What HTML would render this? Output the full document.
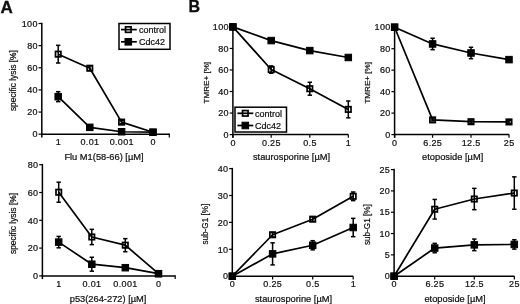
<!DOCTYPE html>
<html><head><meta charset="utf-8"><title>figure</title>
<style>
html,body{margin:0;padding:0;background:#fff;width:520px;height:304px;overflow:hidden;}
svg{display:block;font-family:"Liberation Sans", sans-serif;will-change:transform;}
svg text{fill:#111;stroke:#111;stroke-width:0.22px;}
svg line,svg polyline,svg rect{stroke:#000;}
</style></head><body>
<svg width="520" height="304" viewBox="0 0 520 304">
<line x1="41.8" y1="22.75" x2="41.8" y2="137.4" stroke-width="1.5"/>
<line x1="41.05" y1="134.2" x2="169.3" y2="134.2" stroke-width="1.5"/>
<line x1="38.6" y1="134.2" x2="41.8" y2="134.2" stroke-width="1.2"/>
<text x="37.85" y="137.44" font-size="9" text-anchor="end" letter-spacing="0.35">0</text>
<line x1="38.6" y1="112.06" x2="41.8" y2="112.06" stroke-width="1.2"/>
<text x="37.85" y="115.3" font-size="9" text-anchor="end" letter-spacing="0.35">20</text>
<line x1="38.6" y1="89.92" x2="41.8" y2="89.92" stroke-width="1.2"/>
<text x="37.85" y="93.16" font-size="9" text-anchor="end" letter-spacing="0.35">40</text>
<line x1="38.6" y1="67.78" x2="41.8" y2="67.78" stroke-width="1.2"/>
<text x="37.85" y="71.02" font-size="9" text-anchor="end" letter-spacing="0.35">60</text>
<line x1="38.6" y1="45.64" x2="41.8" y2="45.64" stroke-width="1.2"/>
<text x="37.85" y="48.88" font-size="9" text-anchor="end" letter-spacing="0.35">80</text>
<line x1="38.6" y1="23.5" x2="41.8" y2="23.5" stroke-width="1.2"/>
<text x="37.85" y="26.74" font-size="9" text-anchor="end" letter-spacing="0.35">100</text>
<text x="58.38" y="144.6" font-size="9" text-anchor="middle" letter-spacing="0.35">1</text>
<text x="89.97" y="144.6" font-size="9" text-anchor="middle" letter-spacing="0.35">0.01</text>
<text x="121.77" y="144.6" font-size="9" text-anchor="middle" letter-spacing="0.35">0.001</text>
<text x="153.18" y="144.6" font-size="9" text-anchor="middle" letter-spacing="0.35">0</text>
<line x1="169.3" y1="133.45" x2="169.3" y2="137.4" stroke-width="1.2"/>
<text x="104" y="160.2" font-size="9.3" text-anchor="middle">Flu M1(58-66) [µM]</text>
<text x="0" y="0" font-size="8.4" text-anchor="middle" transform="translate(15.6 80.6) rotate(-90)">specific lysis [%]</text>
<polyline fill="none" stroke-width="1.7" stroke-linejoin="round" points="58.2,54.16 89.8,68.22 121.6,122.13 153,132.21"/>
<polyline fill="none" stroke-width="1.7" stroke-linejoin="round" points="58.2,96.67 89.8,127.34 121.6,131.76 153,132.21"/>
<line x1="58.2" y1="45.31" x2="58.2" y2="63.02" stroke-width="1.5"/>
<line x1="56" y1="45.31" x2="60.4" y2="45.31" stroke-width="1.5"/>
<line x1="56" y1="63.02" x2="60.4" y2="63.02" stroke-width="1.5"/>
<rect x="55.5" y="51.46" width="5.4" height="5.4" fill="none" stroke-width="1.7"/>
<line x1="89.8" y1="66.01" x2="89.8" y2="70.44" stroke-width="1.5"/>
<line x1="87.6" y1="66.01" x2="92" y2="66.01" stroke-width="1.5"/>
<line x1="87.6" y1="70.44" x2="92" y2="70.44" stroke-width="1.5"/>
<rect x="87.1" y="65.52" width="5.4" height="5.4" fill="none" stroke-width="1.7"/>
<line x1="121.6" y1="120.47" x2="121.6" y2="123.79" stroke-width="1.5"/>
<line x1="119.4" y1="120.47" x2="123.8" y2="120.47" stroke-width="1.5"/>
<line x1="119.4" y1="123.79" x2="123.8" y2="123.79" stroke-width="1.5"/>
<rect x="118.9" y="119.43" width="5.4" height="5.4" fill="none" stroke-width="1.7"/>
<rect x="150.3" y="129.51" width="5.4" height="5.4" fill="none" stroke-width="1.7"/>
<line x1="58.2" y1="91.69" x2="58.2" y2="101.65" stroke-width="1.5"/>
<line x1="56" y1="91.69" x2="60.4" y2="91.69" stroke-width="1.5"/>
<line x1="56" y1="101.65" x2="60.4" y2="101.65" stroke-width="1.5"/>
<rect x="54.95" y="93.42" width="6.5" height="6.5" fill="#000" stroke="none"/>
<rect x="86.55" y="124.09" width="6.5" height="6.5" fill="#000" stroke="none"/>
<rect x="118.35" y="128.51" width="6.5" height="6.5" fill="#000" stroke="none"/>
<rect x="149.75" y="128.96" width="6.5" height="6.5" fill="#000" stroke="none"/>
<line x1="42.4" y1="163.95" x2="42.4" y2="279.1" stroke-width="1.5"/>
<line x1="41.65" y1="275.9" x2="175.2" y2="275.9" stroke-width="1.5"/>
<line x1="39.2" y1="275.9" x2="42.4" y2="275.9" stroke-width="1.2"/>
<text x="38.45" y="279.14" font-size="9" text-anchor="end" letter-spacing="0.35">0</text>
<line x1="39.2" y1="248.1" x2="42.4" y2="248.1" stroke-width="1.2"/>
<text x="38.45" y="251.34" font-size="9" text-anchor="end" letter-spacing="0.35">20</text>
<line x1="39.2" y1="220.3" x2="42.4" y2="220.3" stroke-width="1.2"/>
<text x="38.45" y="223.54" font-size="9" text-anchor="end" letter-spacing="0.35">40</text>
<line x1="39.2" y1="192.5" x2="42.4" y2="192.5" stroke-width="1.2"/>
<text x="38.45" y="195.74" font-size="9" text-anchor="end" letter-spacing="0.35">60</text>
<line x1="39.2" y1="164.7" x2="42.4" y2="164.7" stroke-width="1.2"/>
<text x="38.45" y="167.94" font-size="9" text-anchor="end" letter-spacing="0.35">80</text>
<text x="58.88" y="286.5" font-size="9" text-anchor="middle" letter-spacing="0.35">1</text>
<text x="91.97" y="286.5" font-size="9" text-anchor="middle" letter-spacing="0.35">0.01</text>
<text x="125.47" y="286.5" font-size="9" text-anchor="middle" letter-spacing="0.35">0.001</text>
<text x="158.68" y="286.5" font-size="9" text-anchor="middle" letter-spacing="0.35">0</text>
<line x1="175.2" y1="275.15" x2="175.2" y2="279.1" stroke-width="1.2"/>
<text x="108.1" y="302" font-size="9.3" text-anchor="middle">p53(264-272) [µM]</text>
<text x="0" y="0" font-size="8.4" text-anchor="middle" transform="translate(15.5 223.5) rotate(-90)">specific lysis [%]</text>
<polyline fill="none" stroke-width="1.7" stroke-linejoin="round" points="58.7,192.22 91.8,236.98 125.3,245.18 158.5,273.68"/>
<polyline fill="none" stroke-width="1.7" stroke-linejoin="round" points="58.7,242.12 91.8,264.22 125.3,267.7 158.5,273.68"/>
<line x1="58.7" y1="182.21" x2="58.7" y2="202.23" stroke-width="1.5"/>
<line x1="56.5" y1="182.21" x2="60.9" y2="182.21" stroke-width="1.5"/>
<line x1="56.5" y1="202.23" x2="60.9" y2="202.23" stroke-width="1.5"/>
<rect x="56" y="189.52" width="5.4" height="5.4" fill="none" stroke-width="1.7"/>
<line x1="91.8" y1="229.33" x2="91.8" y2="244.62" stroke-width="1.5"/>
<line x1="89.6" y1="229.33" x2="94" y2="229.33" stroke-width="1.5"/>
<line x1="89.6" y1="244.62" x2="94" y2="244.62" stroke-width="1.5"/>
<rect x="89.1" y="234.28" width="5.4" height="5.4" fill="none" stroke-width="1.7"/>
<line x1="125.3" y1="238.65" x2="125.3" y2="251.71" stroke-width="1.5"/>
<line x1="123.1" y1="238.65" x2="127.5" y2="238.65" stroke-width="1.5"/>
<line x1="123.1" y1="251.71" x2="127.5" y2="251.71" stroke-width="1.5"/>
<rect x="122.6" y="242.48" width="5.4" height="5.4" fill="none" stroke-width="1.7"/>
<rect x="155.8" y="270.98" width="5.4" height="5.4" fill="none" stroke-width="1.7"/>
<line x1="58.7" y1="236.42" x2="58.7" y2="247.82" stroke-width="1.5"/>
<line x1="56.5" y1="236.42" x2="60.9" y2="236.42" stroke-width="1.5"/>
<line x1="56.5" y1="247.82" x2="60.9" y2="247.82" stroke-width="1.5"/>
<rect x="55.45" y="238.87" width="6.5" height="6.5" fill="#000" stroke="none"/>
<line x1="91.8" y1="257.27" x2="91.8" y2="271.17" stroke-width="1.5"/>
<line x1="89.6" y1="257.27" x2="94" y2="257.27" stroke-width="1.5"/>
<line x1="89.6" y1="271.17" x2="94" y2="271.17" stroke-width="1.5"/>
<rect x="88.55" y="260.97" width="6.5" height="6.5" fill="#000" stroke="none"/>
<rect x="122.05" y="264.45" width="6.5" height="6.5" fill="#000" stroke="none"/>
<rect x="155.25" y="270.43" width="6.5" height="6.5" fill="#000" stroke="none"/>
<line x1="232.9" y1="26.15" x2="232.9" y2="137.8" stroke-width="1.5"/>
<line x1="232.15" y1="134.6" x2="348.4" y2="134.6" stroke-width="1.5"/>
<line x1="229.7" y1="134.6" x2="232.9" y2="134.6" stroke-width="1.2"/>
<text x="228.95" y="137.84" font-size="9" text-anchor="end" letter-spacing="0.35">0</text>
<line x1="229.7" y1="113.06" x2="232.9" y2="113.06" stroke-width="1.2"/>
<text x="228.95" y="116.3" font-size="9" text-anchor="end" letter-spacing="0.35">20</text>
<line x1="229.7" y1="91.52" x2="232.9" y2="91.52" stroke-width="1.2"/>
<text x="228.95" y="94.76" font-size="9" text-anchor="end" letter-spacing="0.35">40</text>
<line x1="229.7" y1="69.98" x2="232.9" y2="69.98" stroke-width="1.2"/>
<text x="228.95" y="73.22" font-size="9" text-anchor="end" letter-spacing="0.35">60</text>
<line x1="229.7" y1="48.44" x2="232.9" y2="48.44" stroke-width="1.2"/>
<text x="228.95" y="51.68" font-size="9" text-anchor="end" letter-spacing="0.35">80</text>
<line x1="229.7" y1="26.9" x2="232.9" y2="26.9" stroke-width="1.2"/>
<text x="228.95" y="30.14" font-size="9" text-anchor="end" letter-spacing="0.35">100</text>
<line x1="232.9" y1="134.6" x2="232.9" y2="137.8" stroke-width="1.2"/>
<text x="233.08" y="146.3" font-size="9" text-anchor="middle" letter-spacing="0.35">0</text>
<line x1="271.2" y1="134.6" x2="271.2" y2="137.8" stroke-width="1.2"/>
<text x="271.38" y="146.3" font-size="9" text-anchor="middle" letter-spacing="0.35">0.25</text>
<line x1="309.8" y1="134.6" x2="309.8" y2="137.8" stroke-width="1.2"/>
<text x="309.98" y="146.3" font-size="9" text-anchor="middle" letter-spacing="0.35">0.5</text>
<line x1="348.3" y1="134.6" x2="348.3" y2="137.8" stroke-width="1.2"/>
<text x="348.48" y="146.3" font-size="9" text-anchor="middle" letter-spacing="0.35">1</text>
<text x="291.5" y="160.2" font-size="9.3" text-anchor="middle">staurosporine [µM]</text>
<text x="0" y="0" font-size="8.1" text-anchor="middle" transform="translate(208.8 82.7) rotate(-90)">TMRE+ [%]</text>
<polyline fill="none" stroke-width="1.7" stroke-linejoin="round" points="232.9,26.9 271.2,69.55 309.8,88.72 348.3,109.4"/>
<polyline fill="none" stroke-width="1.7" stroke-linejoin="round" points="232.9,26.9 271.2,40.58 309.8,50.59 348.3,57.49"/>
<rect x="230.2" y="24.2" width="5.4" height="5.4" fill="none" stroke-width="1.7"/>
<line x1="271.2" y1="65.89" x2="271.2" y2="73.21" stroke-width="1.5"/>
<line x1="269" y1="65.89" x2="273.4" y2="65.89" stroke-width="1.5"/>
<line x1="269" y1="73.21" x2="273.4" y2="73.21" stroke-width="1.5"/>
<rect x="268.5" y="66.85" width="5.4" height="5.4" fill="none" stroke-width="1.7"/>
<line x1="309.8" y1="82.26" x2="309.8" y2="95.18" stroke-width="1.5"/>
<line x1="307.6" y1="82.26" x2="312" y2="82.26" stroke-width="1.5"/>
<line x1="307.6" y1="95.18" x2="312" y2="95.18" stroke-width="1.5"/>
<rect x="307.1" y="86.02" width="5.4" height="5.4" fill="none" stroke-width="1.7"/>
<line x1="348.3" y1="101" x2="348.3" y2="117.8" stroke-width="1.5"/>
<line x1="346.1" y1="101" x2="350.5" y2="101" stroke-width="1.5"/>
<line x1="346.1" y1="117.8" x2="350.5" y2="117.8" stroke-width="1.5"/>
<rect x="345.6" y="106.7" width="5.4" height="5.4" fill="none" stroke-width="1.7"/>
<rect x="229.65" y="23.65" width="6.5" height="6.5" fill="#000" stroke="none"/>
<rect x="267.95" y="37.33" width="6.5" height="6.5" fill="#000" stroke="none"/>
<rect x="306.55" y="47.34" width="6.5" height="6.5" fill="#000" stroke="none"/>
<rect x="345.05" y="54.24" width="6.5" height="6.5" fill="#000" stroke="none"/>
<line x1="394.6" y1="26.45" x2="394.6" y2="137.8" stroke-width="1.5"/>
<line x1="393.85" y1="134.6" x2="509.2" y2="134.6" stroke-width="1.5"/>
<line x1="391.4" y1="134.6" x2="394.6" y2="134.6" stroke-width="1.2"/>
<text x="390.65" y="137.84" font-size="9" text-anchor="end" letter-spacing="0.35">0</text>
<line x1="391.4" y1="113.12" x2="394.6" y2="113.12" stroke-width="1.2"/>
<text x="390.65" y="116.36" font-size="9" text-anchor="end" letter-spacing="0.35">20</text>
<line x1="391.4" y1="91.64" x2="394.6" y2="91.64" stroke-width="1.2"/>
<text x="390.65" y="94.88" font-size="9" text-anchor="end" letter-spacing="0.35">40</text>
<line x1="391.4" y1="70.16" x2="394.6" y2="70.16" stroke-width="1.2"/>
<text x="390.65" y="73.4" font-size="9" text-anchor="end" letter-spacing="0.35">60</text>
<line x1="391.4" y1="48.68" x2="394.6" y2="48.68" stroke-width="1.2"/>
<text x="390.65" y="51.92" font-size="9" text-anchor="end" letter-spacing="0.35">80</text>
<line x1="391.4" y1="27.2" x2="394.6" y2="27.2" stroke-width="1.2"/>
<text x="390.65" y="30.44" font-size="9" text-anchor="end" letter-spacing="0.35">100</text>
<line x1="394.6" y1="134.6" x2="394.6" y2="137.8" stroke-width="1.2"/>
<text x="394.78" y="146.3" font-size="9" text-anchor="middle" letter-spacing="0.35">0</text>
<line x1="432.6" y1="134.6" x2="432.6" y2="137.8" stroke-width="1.2"/>
<text x="432.78" y="146.3" font-size="9" text-anchor="middle" letter-spacing="0.35">6.25</text>
<line x1="471" y1="134.6" x2="471" y2="137.8" stroke-width="1.2"/>
<text x="471.18" y="146.3" font-size="9" text-anchor="middle" letter-spacing="0.35">12.5</text>
<line x1="509" y1="134.6" x2="509" y2="137.8" stroke-width="1.2"/>
<text x="509.18" y="146.3" font-size="9" text-anchor="middle" letter-spacing="0.35">25</text>
<text x="452.7" y="160.2" font-size="9.3" text-anchor="middle">etoposide [µM]</text>
<text x="0" y="0" font-size="8.1" text-anchor="middle" transform="translate(369.8 82.8) rotate(-90)">TMRE+ [%]</text>
<polyline fill="none" stroke-width="1.7" stroke-linejoin="round" points="394.6,27.2 432.6,119.89 471,121.71 509,121.93"/>
<polyline fill="none" stroke-width="1.7" stroke-linejoin="round" points="394.6,27.2 432.6,43.95 471,52.98 509,59.63"/>
<rect x="391.9" y="24.5" width="5.4" height="5.4" fill="none" stroke-width="1.7"/>
<line x1="432.6" y1="118.81" x2="432.6" y2="120.96" stroke-width="1.5"/>
<line x1="430.4" y1="118.81" x2="434.8" y2="118.81" stroke-width="1.5"/>
<line x1="430.4" y1="120.96" x2="434.8" y2="120.96" stroke-width="1.5"/>
<rect x="429.9" y="117.19" width="5.4" height="5.4" fill="none" stroke-width="1.7"/>
<line x1="471" y1="120.1" x2="471" y2="123.32" stroke-width="1.5"/>
<line x1="468.8" y1="120.1" x2="473.2" y2="120.1" stroke-width="1.5"/>
<line x1="468.8" y1="123.32" x2="473.2" y2="123.32" stroke-width="1.5"/>
<rect x="468.3" y="119.01" width="5.4" height="5.4" fill="none" stroke-width="1.7"/>
<line x1="509" y1="120.64" x2="509" y2="123.22" stroke-width="1.5"/>
<line x1="506.8" y1="120.64" x2="511.2" y2="120.64" stroke-width="1.5"/>
<line x1="506.8" y1="123.22" x2="511.2" y2="123.22" stroke-width="1.5"/>
<rect x="506.3" y="119.23" width="5.4" height="5.4" fill="none" stroke-width="1.7"/>
<rect x="391.35" y="23.95" width="6.5" height="6.5" fill="#000" stroke="none"/>
<line x1="432.6" y1="38.26" x2="432.6" y2="49.65" stroke-width="1.5"/>
<line x1="430.4" y1="38.26" x2="434.8" y2="38.26" stroke-width="1.5"/>
<line x1="430.4" y1="49.65" x2="434.8" y2="49.65" stroke-width="1.5"/>
<rect x="429.35" y="40.7" width="6.5" height="6.5" fill="#000" stroke="none"/>
<line x1="471" y1="47.28" x2="471" y2="58.67" stroke-width="1.5"/>
<line x1="468.8" y1="47.28" x2="473.2" y2="47.28" stroke-width="1.5"/>
<line x1="468.8" y1="58.67" x2="473.2" y2="58.67" stroke-width="1.5"/>
<rect x="467.75" y="49.73" width="6.5" height="6.5" fill="#000" stroke="none"/>
<line x1="509" y1="58.02" x2="509" y2="61.25" stroke-width="1.5"/>
<line x1="506.8" y1="58.02" x2="511.2" y2="58.02" stroke-width="1.5"/>
<line x1="506.8" y1="61.25" x2="511.2" y2="61.25" stroke-width="1.5"/>
<rect x="505.75" y="56.38" width="6.5" height="6.5" fill="#000" stroke="none"/>
<line x1="232.3" y1="167.85" x2="232.3" y2="279.4" stroke-width="1.5"/>
<line x1="231.55" y1="276.2" x2="353.2" y2="276.2" stroke-width="1.5"/>
<line x1="229.1" y1="276.2" x2="232.3" y2="276.2" stroke-width="1.2"/>
<text x="228.35" y="279.44" font-size="9" text-anchor="end" letter-spacing="0.35">0</text>
<line x1="229.1" y1="249.3" x2="232.3" y2="249.3" stroke-width="1.2"/>
<text x="228.35" y="252.54" font-size="9" text-anchor="end" letter-spacing="0.35">10</text>
<line x1="229.1" y1="222.4" x2="232.3" y2="222.4" stroke-width="1.2"/>
<text x="228.35" y="225.64" font-size="9" text-anchor="end" letter-spacing="0.35">20</text>
<line x1="229.1" y1="195.5" x2="232.3" y2="195.5" stroke-width="1.2"/>
<text x="228.35" y="198.74" font-size="9" text-anchor="end" letter-spacing="0.35">30</text>
<line x1="229.1" y1="168.6" x2="232.3" y2="168.6" stroke-width="1.2"/>
<text x="228.35" y="171.84" font-size="9" text-anchor="end" letter-spacing="0.35">40</text>
<line x1="232.3" y1="276.2" x2="232.3" y2="279.4" stroke-width="1.2"/>
<text x="232.48" y="287.3" font-size="9" text-anchor="middle" letter-spacing="0.35">0</text>
<line x1="272.6" y1="276.2" x2="272.6" y2="279.4" stroke-width="1.2"/>
<text x="272.78" y="287.3" font-size="9" text-anchor="middle" letter-spacing="0.35">0.25</text>
<line x1="312.7" y1="276.2" x2="312.7" y2="279.4" stroke-width="1.2"/>
<text x="312.88" y="287.3" font-size="9" text-anchor="middle" letter-spacing="0.35">0.5</text>
<line x1="353.2" y1="276.2" x2="353.2" y2="279.4" stroke-width="1.2"/>
<text x="353.38" y="287.3" font-size="9" text-anchor="middle" letter-spacing="0.35">1</text>
<text x="293.5" y="302" font-size="9.3" text-anchor="middle">staurosporine [µM]</text>
<text x="0" y="0" font-size="8.2" text-anchor="middle" transform="translate(208.4 224.1) rotate(-90)">sub-G1 [%]</text>
<polyline fill="none" stroke-width="1.7" stroke-linejoin="round" points="232.3,276.2 272.6,234.77 312.7,219.17 353.2,196.31"/>
<polyline fill="none" stroke-width="1.7" stroke-linejoin="round" points="232.3,276.2 272.6,253.87 312.7,245.26 353.2,227.51"/>
<rect x="229.6" y="273.5" width="5.4" height="5.4" fill="none" stroke-width="1.7"/>
<line x1="272.6" y1="232.62" x2="272.6" y2="236.93" stroke-width="1.5"/>
<line x1="270.4" y1="232.62" x2="274.8" y2="232.62" stroke-width="1.5"/>
<line x1="270.4" y1="236.93" x2="274.8" y2="236.93" stroke-width="1.5"/>
<rect x="269.9" y="232.07" width="5.4" height="5.4" fill="none" stroke-width="1.7"/>
<line x1="312.7" y1="217.02" x2="312.7" y2="221.32" stroke-width="1.5"/>
<line x1="310.5" y1="217.02" x2="314.9" y2="217.02" stroke-width="1.5"/>
<line x1="310.5" y1="221.32" x2="314.9" y2="221.32" stroke-width="1.5"/>
<rect x="310" y="216.47" width="5.4" height="5.4" fill="none" stroke-width="1.7"/>
<line x1="353.2" y1="192" x2="353.2" y2="200.61" stroke-width="1.5"/>
<line x1="351" y1="192" x2="355.4" y2="192" stroke-width="1.5"/>
<line x1="351" y1="200.61" x2="355.4" y2="200.61" stroke-width="1.5"/>
<rect x="350.5" y="193.61" width="5.4" height="5.4" fill="none" stroke-width="1.7"/>
<rect x="229.05" y="272.95" width="6.5" height="6.5" fill="#000" stroke="none"/>
<line x1="272.6" y1="242.84" x2="272.6" y2="264.9" stroke-width="1.5"/>
<line x1="270.4" y1="242.84" x2="274.8" y2="242.84" stroke-width="1.5"/>
<line x1="270.4" y1="264.9" x2="274.8" y2="264.9" stroke-width="1.5"/>
<rect x="269.35" y="250.62" width="6.5" height="6.5" fill="#000" stroke="none"/>
<line x1="312.7" y1="240.69" x2="312.7" y2="249.84" stroke-width="1.5"/>
<line x1="310.5" y1="240.69" x2="314.9" y2="240.69" stroke-width="1.5"/>
<line x1="310.5" y1="249.84" x2="314.9" y2="249.84" stroke-width="1.5"/>
<rect x="309.45" y="242.01" width="6.5" height="6.5" fill="#000" stroke="none"/>
<line x1="353.2" y1="218.36" x2="353.2" y2="236.66" stroke-width="1.5"/>
<line x1="351" y1="218.36" x2="355.4" y2="218.36" stroke-width="1.5"/>
<line x1="351" y1="236.66" x2="355.4" y2="236.66" stroke-width="1.5"/>
<rect x="349.95" y="224.26" width="6.5" height="6.5" fill="#000" stroke="none"/>
<line x1="394.1" y1="168.85" x2="394.1" y2="279.4" stroke-width="1.5"/>
<line x1="393.35" y1="276.2" x2="514.5" y2="276.2" stroke-width="1.5"/>
<line x1="390.9" y1="276.2" x2="394.1" y2="276.2" stroke-width="1.2"/>
<text x="390.15" y="279.44" font-size="9" text-anchor="end" letter-spacing="0.35">0</text>
<line x1="390.9" y1="254.88" x2="394.1" y2="254.88" stroke-width="1.2"/>
<text x="390.15" y="258.12" font-size="9" text-anchor="end" letter-spacing="0.35">5</text>
<line x1="390.9" y1="233.56" x2="394.1" y2="233.56" stroke-width="1.2"/>
<text x="390.15" y="236.8" font-size="9" text-anchor="end" letter-spacing="0.35">10</text>
<line x1="390.9" y1="212.24" x2="394.1" y2="212.24" stroke-width="1.2"/>
<text x="390.15" y="215.48" font-size="9" text-anchor="end" letter-spacing="0.35">15</text>
<line x1="390.9" y1="190.92" x2="394.1" y2="190.92" stroke-width="1.2"/>
<text x="390.15" y="194.16" font-size="9" text-anchor="end" letter-spacing="0.35">20</text>
<line x1="390.9" y1="169.6" x2="394.1" y2="169.6" stroke-width="1.2"/>
<text x="390.15" y="172.84" font-size="9" text-anchor="end" letter-spacing="0.35">25</text>
<line x1="394.1" y1="276.2" x2="394.1" y2="279.4" stroke-width="1.2"/>
<text x="394.28" y="287.3" font-size="9" text-anchor="middle" letter-spacing="0.35">0</text>
<line x1="434.7" y1="276.2" x2="434.7" y2="279.4" stroke-width="1.2"/>
<text x="434.88" y="287.3" font-size="9" text-anchor="middle" letter-spacing="0.35">6.25</text>
<line x1="474.3" y1="276.2" x2="474.3" y2="279.4" stroke-width="1.2"/>
<text x="474.48" y="287.3" font-size="9" text-anchor="middle" letter-spacing="0.35">12.5</text>
<line x1="514.3" y1="276.2" x2="514.3" y2="279.4" stroke-width="1.2"/>
<text x="514.47" y="287.3" font-size="9" text-anchor="middle" letter-spacing="0.35">25</text>
<text x="455" y="302" font-size="9.3" text-anchor="middle">etoposide [µM]</text>
<text x="0" y="0" font-size="8.2" text-anchor="middle" transform="translate(370.3 224.6) rotate(-90)">sub-G1 [%]</text>
<polyline fill="none" stroke-width="1.7" stroke-linejoin="round" points="394.1,276.2 434.7,209.26 474.3,199.02 514.3,193.05"/>
<polyline fill="none" stroke-width="1.7" stroke-linejoin="round" points="394.1,276.2 434.7,248.06 474.3,244.86 514.3,244.43"/>
<rect x="391.4" y="273.5" width="5.4" height="5.4" fill="none" stroke-width="1.7"/>
<line x1="434.7" y1="199.45" x2="434.7" y2="219.06" stroke-width="1.5"/>
<line x1="432.5" y1="199.45" x2="436.9" y2="199.45" stroke-width="1.5"/>
<line x1="432.5" y1="219.06" x2="436.9" y2="219.06" stroke-width="1.5"/>
<rect x="432" y="206.56" width="5.4" height="5.4" fill="none" stroke-width="1.7"/>
<line x1="474.3" y1="188.36" x2="474.3" y2="209.68" stroke-width="1.5"/>
<line x1="472.1" y1="188.36" x2="476.5" y2="188.36" stroke-width="1.5"/>
<line x1="472.1" y1="209.68" x2="476.5" y2="209.68" stroke-width="1.5"/>
<rect x="471.6" y="196.32" width="5.4" height="5.4" fill="none" stroke-width="1.7"/>
<line x1="514.3" y1="176.85" x2="514.3" y2="209.26" stroke-width="1.5"/>
<line x1="512.1" y1="176.85" x2="516.5" y2="176.85" stroke-width="1.5"/>
<line x1="512.1" y1="209.26" x2="516.5" y2="209.26" stroke-width="1.5"/>
<rect x="511.6" y="190.35" width="5.4" height="5.4" fill="none" stroke-width="1.7"/>
<rect x="390.85" y="272.95" width="6.5" height="6.5" fill="#000" stroke="none"/>
<line x1="434.7" y1="243.37" x2="434.7" y2="252.75" stroke-width="1.5"/>
<line x1="432.5" y1="243.37" x2="436.9" y2="243.37" stroke-width="1.5"/>
<line x1="432.5" y1="252.75" x2="436.9" y2="252.75" stroke-width="1.5"/>
<rect x="431.45" y="244.81" width="6.5" height="6.5" fill="#000" stroke="none"/>
<line x1="474.3" y1="239.06" x2="474.3" y2="250.66" stroke-width="1.5"/>
<line x1="472.1" y1="239.06" x2="476.5" y2="239.06" stroke-width="1.5"/>
<line x1="472.1" y1="250.66" x2="476.5" y2="250.66" stroke-width="1.5"/>
<rect x="471.05" y="241.61" width="6.5" height="6.5" fill="#000" stroke="none"/>
<line x1="514.3" y1="239.74" x2="514.3" y2="249.12" stroke-width="1.5"/>
<line x1="512.1" y1="239.74" x2="516.5" y2="239.74" stroke-width="1.5"/>
<line x1="512.1" y1="249.12" x2="516.5" y2="249.12" stroke-width="1.5"/>
<rect x="511.05" y="241.18" width="6.5" height="6.5" fill="#000" stroke="none"/>
<rect x="119" y="23.5" width="51" height="25.8" fill="#fff" stroke-width="1.5"/>
<line x1="121" y1="29.6" x2="136.8" y2="29.6" stroke-width="1.7"/>
<rect x="125.55" y="26.85" width="5.5" height="5.5" fill="none" stroke-width="1.7"/>
<text x="139" y="32.84" font-size="9" text-anchor="start">control</text>
<line x1="121" y1="41.8" x2="136.8" y2="41.8" stroke-width="1.7"/>
<rect x="125" y="38.5" width="6.6" height="6.6" fill="#000" stroke="none"/>
<text x="139" y="45.04" font-size="9" text-anchor="start">Cdc42</text>
<rect x="235" y="107.2" width="51.5" height="24.8" fill="#fff" stroke-width="1.5"/>
<line x1="237.4" y1="113.3" x2="253.3" y2="113.3" stroke-width="1.7"/>
<rect x="242.55" y="110.55" width="5.5" height="5.5" fill="none" stroke-width="1.7"/>
<text x="254.9" y="116.54" font-size="9" text-anchor="start">control</text>
<line x1="237.4" y1="125.5" x2="253.3" y2="125.5" stroke-width="1.7"/>
<rect x="242" y="122.2" width="6.6" height="6.6" fill="#000" stroke="none"/>
<text x="254.9" y="128.74" font-size="9" text-anchor="start">Cdc42</text>
<text x="0.6" y="12.5" font-size="17" font-weight="bold" style="stroke:#000;stroke-width:0.3">A</text>
<text x="188.5" y="12.4" font-size="16" font-weight="bold" style="stroke:#000;stroke-width:0.3">B</text>
</svg>
</body></html>
